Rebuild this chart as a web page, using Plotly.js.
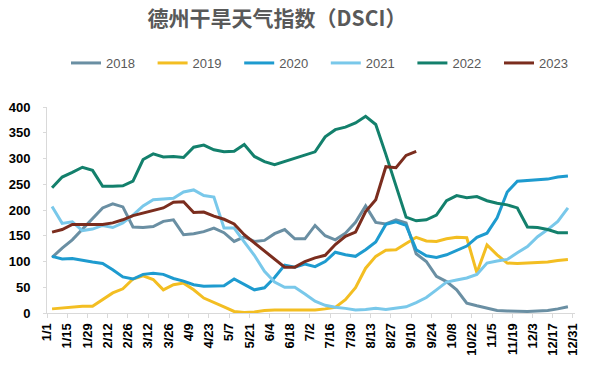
<!DOCTYPE html>
<html><head><meta charset="utf-8">
<script src="https://cdn.plot.ly/plotly-3.0.1.min.js"></script>
<style>html,body{margin:0;padding:0;background:#fff;}#chart{width:593px;height:365px;}</style>
</head><body><div id="chart"></div>
<script>
// Weekly observations (first week of each year = index 0)
const tickLabels = ["1/1","1/15","1/29","2/12","2/26","3/12","3/26","4/9","4/23","5/7","5/21","6/4","6/18","7/2","7/16","7/30","8/13","8/27","9/10","9/24","10/8","10/22","11/5","11/19","12/3","12/17","12/31"];
const seriesNames = ["2018","2019","2020","2021","2022","2023"];
const s2018 = [108,126,142,162,184,204,212,206,167,166,168,178,181,152,154,158,165,156,139,148,139,141,154,162,144,144,170,150,142,155,176,208,176,173,181,175,115,100,71,61,45,19,14,10,5,4,3,3,4,5,8,12];
const s2019 = [8,10,12,13,13,26,39,47,66,72,65,45,55,58,45,29,21,12,3,1,2,5,6,6,7,7,6,8,11,26,49,87,110,122,123,135,147,140,139,144,147,146,78,132,113,97,96,97,98,99,102,104];
const s2020 = [110,105,106,102,99,96,84,70,66,75,77,75,67,62,55,52,53,53,66,56,45,49,69,93,89,95,90,100,118,113,110,123,138,172,177,170,123,111,108,113,121,130,147,155,185,235,256,257,258,260,264,266];
const s2021 = [207,174,177,160,163,170,166,175,190,208,220,221,223,235,239,228,225,165,165,138,112,81,60,50,50,37,23,15,11,9,6,7,9,7,9,12,20,30,45,60,64,68,75,97,101,104,117,129,148,162,178,204];
const s2022 = [243,264,273,283,277,246,246,247,256,298,309,303,304,302,322,326,317,313,314,327,304,294,288,294,301,307,313,342,356,361,369,382,366,308,248,186,179,181,190,218,228,224,226,218,213,210,204,167,166,162,156,156];
const s2023 = [157,162,172,172,171,172,175,181,189,194,199,204,215,216,195,196,188,182,173,152,136,120,104,89,89,100,107,112,133,149,157,197,220,284,282,306,314];
const yTicks = [0,50,100,150,200,250,300,350,400];

const colors = ["#6A8FA3","#F3BE22","#1E9BCF","#79C8EA","#13806C","#7B2D1E"];
const all = [s2018,s2019,s2020,s2021,s2022,s2023];

const traces = all.map((vals, k) => ({
  type: 'scatter', mode: 'lines', name: seriesNames[k],
  x: vals.map((v, i) => i), y: vals,
  line: {color: colors[k], width: 3},
  hoverinfo: 'skip'
}));

// Excel-style category axis: labels sit on tick marks between weekly categories
const tickvals = tickLabels.map((t, k) => 2 * k - 0.5);

const tickFont = {family: '"Liberation Sans", Arial, sans-serif', size: 13, color: '#000', weight: 'bold'};
const layout = {
  width: 593, height: 365,
  margin: {l: 47, r: 18, t: 107, b: 52},
  paper_bgcolor: '#fff', plot_bgcolor: '#fff',
  title: {
    text: '德州干旱天气指数（DSCI）',
    font: {family: '"Noto Sans CJK SC", sans-serif', size: 21, color: '#595959', weight: 'bold'},
    xref: 'container', x: 277 / 593, xanchor: 'center',
    yref: 'container', y: 1 - 19 / 365, yanchor: 'middle'
  },
  showlegend: true,
  legend: {
    orientation: 'h', xref: 'container', yref: 'container',
    x: 66 / 593, xanchor: 'left', y: 1 - 63 / 365, yanchor: 'middle',
    entrywidth: 41.6, entrywidthmode: 'pixels',
    font: {family: '"Liberation Sans", Arial, sans-serif', size: 13, color: '#595959'},
    bgcolor: 'rgba(0,0,0,0)'
  },
  xaxis: {
    type: 'linear', range: [-0.5, 51.7], fixedrange: true,
    tickmode: 'array', tickvals: tickvals, ticktext: tickLabels, tickangle: -90,
    showgrid: false, zeroline: false, showline: true, linecolor: '#D9D9D9', linewidth: 1,
    ticks: 'outside', ticklen: 4, tickcolor: '#D9D9D9', tickfont: tickFont, automargin: false
  },
  yaxis: {
    range: [0, 400], fixedrange: true, tickmode: 'array', tickvals: yTicks,
    showgrid: false, zeroline: false, showline: true, linecolor: '#D9D9D9', linewidth: 1,
    ticks: 'outside', ticklen: 3, tickcolor: '#D9D9D9', tickfont: tickFont,
    ticklabelstandoff: 10, automargin: false
  }
};
Plotly.newPlot('chart', traces, layout, {displayModeBar: false, staticPlot: true});
</script></body></html>
